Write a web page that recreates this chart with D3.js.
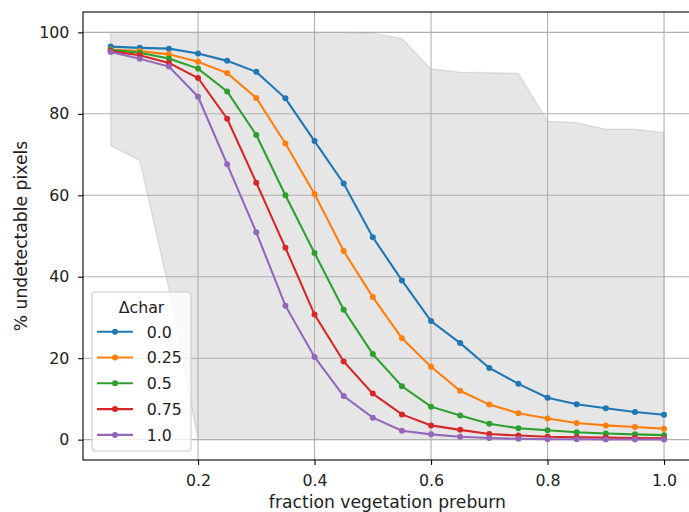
<script src='https://d3js.org/d3.v7.min.js'></script>
<body style="margin:0">
<script>
  const frac = [0.05, 0.1, 0.15, 0.2, 0.25, 0.3, 0.35, 0.4, 0.45, 0.5,
                0.55, 0.6, 0.65, 0.7, 0.75, 0.8, 0.85, 0.9, 0.95, 1.0];

  const upper = [100, 100, 100, 100, 100, 100, 100, 100, 100, 99.8,
                 98.5, 91, 90.2, 90.1, 89.9, 78.2, 77.8, 76.2, 76.2, 75.4];
  const lower = [72.2, 68.5, 37, 0, 0, 0, 0, 0, 0, 0,
                 0, 0, 0, 0, 0, 0, 0, 0, 0, 0];

  const dchar = ["0.0", "0.25", "0.5", "0.75", "1.0"];
  const s00 = [96.5, 96.2, 96.0, 94.8, 93.0, 90.3, 83.8, 73.3, 62.9, 49.7,
               39.1, 29.1, 23.7, 17.6, 13.7, 10.3, 8.7, 7.7, 6.8, 6.1];
  const s025 = [95.8, 95.4, 94.6, 92.8, 90.0, 83.9, 72.7, 60.3, 46.3, 35.0,
                24.9, 17.9, 12.0, 8.6, 6.5, 5.2, 4.1, 3.5, 3.1, 2.7];
  const s05 = [95.7, 95.0, 93.6, 91.1, 85.5, 74.8, 60.0, 45.8, 31.9, 21.0,
               13.1, 8.1, 5.9, 3.9, 2.8, 2.3, 1.8, 1.5, 1.3, 1.1];
  const s075 = [95.4, 94.4, 92.5, 88.8, 78.8, 63.1, 47.1, 30.7, 19.2, 11.3,
                6.2, 3.5, 2.4, 1.4, 1.0, 0.7, 0.6, 0.5, 0.4, 0.3];
  const s10 = [95.2, 93.5, 91.6, 84.2, 67.6, 50.9, 32.9, 20.3, 10.7, 5.4,
               2.2, 1.3, 0.7, 0.4, 0.2, 0.1, 0.1, 0.05, 0.05, 0.03];
  const series = [s00, s025, s05, s075, s10];
  const colors = ["#1f77b4", "#ff7f0e", "#2ca02c", "#d62728", "#9467bd"];

  const xTicks = [0.2, 0.4, 0.6, 0.8, 1.0];
  const yTicks = [0, 20, 40, 60, 80, 100];

  const width = 689, height = 512;
  const mLeft = 83, mTop = 12, mBottom = 460, mRight = 691.7;
  const font = "DejaVu Sans, sans-serif";
  const tickFont = "15.8px", labelFont = "17.2px";

  var x = d3.scaleLinear().domain([0.0025, 1.0475]).range([mLeft, mRight]);
  var y = d3.scaleLinear().domain([-5, 105]).range([mBottom, mTop]);

  var svg = d3.select("body").append("svg")
    .attr("width", width).attr("height", height)
    .style("font-family", font);

  svg.append("rect").attr("width", width).attr("height", height).attr("fill", "white");

  // shaded band
  var area = d3.area()
    .x(function(d, i) { return x(frac[i]); })
    .y0(function(d, i) { return y(lower[i]); })
    .y1(function(d, i) { return y(upper[i]); });
  svg.append("path").datum(frac)
    .attr("d", area)
    .attr("fill", "#808080").attr("fill-opacity", 0.2)
    .attr("stroke", "#808080").attr("stroke-opacity", 0.2).attr("stroke-width", 1.4);

  // grid
  svg.append("g").selectAll("line").data(xTicks).enter().append("line")
    .attr("x1", d => x(d)).attr("x2", d => x(d))
    .attr("y1", mTop).attr("y2", mBottom)
    .attr("stroke", "#b0b0b0").attr("stroke-width", 1.1);
  svg.append("g").selectAll("line").data(yTicks).enter().append("line")
    .attr("x1", mLeft).attr("x2", mRight)
    .attr("y1", d => y(d)).attr("y2", d => y(d))
    .attr("stroke", "#b0b0b0").attr("stroke-width", 1.1);

  // series
  var line = d3.line()
    .x(function(d, i) { return x(frac[i]); })
    .y(function(d) { return y(d); });

  series.forEach(function(s, k) {
    var g = svg.append("g");
    g.append("path").datum(s)
      .attr("d", line)
      .attr("fill", "none")
      .attr("stroke", colors[k]).attr("stroke-width", 2.1);
    g.selectAll("circle").data(s).enter().append("circle")
      .attr("cx", (d, i) => x(frac[i]))
      .attr("cy", d => y(d))
      .attr("r", 3)
      .attr("fill", colors[k]);
  });

  // axes
  var xAxis = svg.append("g")
    .attr("transform", "translate(0," + mBottom + ")")
    .call(d3.axisBottom(x).tickValues(xTicks).tickFormat(d3.format(".1f")).tickSizeOuter(0).tickSize(4.9).tickPadding(10));
  var yAxis = svg.append("g")
    .attr("transform", "translate(" + mLeft + ",0)")
    .call(d3.axisLeft(y).tickValues(yTicks).tickSizeOuter(0).tickSize(4.9).tickPadding(8.8));
  [xAxis, yAxis].forEach(function(a) {
    a.select(".domain").remove();
    a.selectAll("line").attr("stroke", "black").attr("stroke-width", 1.1);
    a.selectAll("text").attr("font-family", font).attr("font-size", tickFont).attr("fill", "#222");
  });

  // spines
  svg.append("rect")
    .attr("x", mLeft).attr("y", mTop)
    .attr("width", mRight - mLeft).attr("height", mBottom - mTop)
    .attr("fill", "none").attr("stroke", "black").attr("stroke-width", 1.1);

  // labels
  svg.append("text")
    .attr("x", (mLeft + mRight) / 2).attr("y", 508)
    .attr("text-anchor", "middle").attr("font-size", labelFont).attr("fill", "#222")
    .text("fraction vegetation preburn");
  svg.append("text")
    .attr("transform", "translate(26.5," + (mTop + mBottom) / 2 + ") rotate(-90)")
    .attr("text-anchor", "middle").attr("font-size", labelFont).attr("fill", "#222")
    .text("% undetectable pixels");

  // legend
  var lg = svg.append("g").attr("transform", "translate(92,292)");
  lg.append("rect")
    .attr("width", 99).attr("height", 159).attr("rx", 3)
    .attr("fill", "white").attr("fill-opacity", 0.8)
    .attr("stroke", "#cccccc").attr("stroke-width", 1.1);
  lg.append("text")
    .attr("x", 49.5).attr("y", 20.5)
    .attr("text-anchor", "middle").attr("font-size", tickFont).attr("fill", "#222")
    .text("\u0394char");
  dchar.forEach(function(lbl, k) {
    var yy = 39.7 + k * 25.8;
    lg.append("line")
      .attr("x1", 5).attr("x2", 41).attr("y1", yy).attr("y2", yy)
      .attr("stroke", colors[k]).attr("stroke-width", 2.1);
    lg.append("circle").attr("cx", 23).attr("cy", yy).attr("r", 3).attr("fill", colors[k]);
    lg.append("text")
      .attr("x", 54.7).attr("y", yy + 5.8)
      .attr("font-size", tickFont).attr("fill", "#222")
      .text(lbl);
  });
</script>
</body>
